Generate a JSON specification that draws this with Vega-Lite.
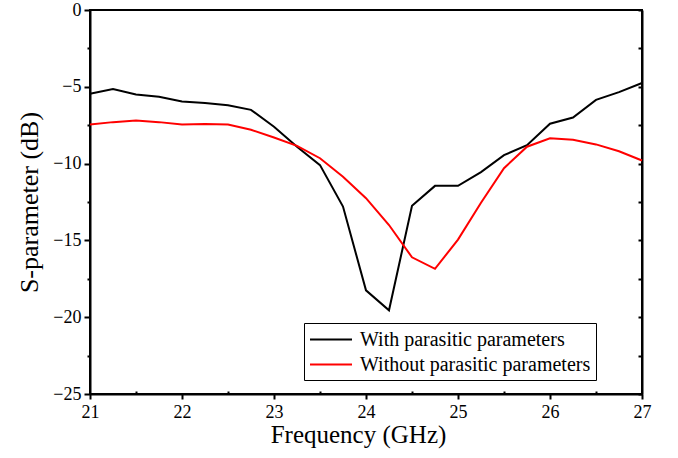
{
"$schema": "https://vega.github.io/schema/vega-lite/v6.json",
"width": 552, "height": 384,
"autosize": {"type": "none"},
"padding": {"left": 90, "top": 10, "right": 36, "bottom": 64},
"background": "white",
"config": {
  "view": {"stroke": "black", "strokeWidth": 2},
  "font": "Liberation Serif",
  "axis": {"domainColor": "black", "domainWidth": 2, "tickColor": "black", "tickWidth": 2, "grid": false, "labelColor": "black", "labelFont": "Liberation Serif", "labelFontSize": 18, "titleFont": "Liberation Serif", "titleColor": "black", "titleFontWeight": "normal", "titleFontSize": 26}
},
"data": {"values": [
{"f":21,"s":-5.45,"series":"With parasitic parameters"},
{"f":21.25,"s":-5.15,"series":"With parasitic parameters"},
{"f":21.5,"s":-5.5,"series":"With parasitic parameters"},
{"f":21.75,"s":-5.65,"series":"With parasitic parameters"},
{"f":22,"s":-5.95,"series":"With parasitic parameters"},
{"f":22.25,"s":-6.05,"series":"With parasitic parameters"},
{"f":22.5,"s":-6.2,"series":"With parasitic parameters"},
{"f":22.75,"s":-6.5,"series":"With parasitic parameters"},
{"f":23,"s":-7.6,"series":"With parasitic parameters"},
{"f":23.25,"s":-8.9,"series":"With parasitic parameters"},
{"f":23.5,"s":-10.1,"series":"With parasitic parameters"},
{"f":23.75,"s":-12.8,"series":"With parasitic parameters"},
{"f":24,"s":-18.25,"series":"With parasitic parameters"},
{"f":24.25,"s":-19.55,"series":"With parasitic parameters"},
{"f":24.5,"s":-12.75,"series":"With parasitic parameters"},
{"f":24.75,"s":-11.45,"series":"With parasitic parameters"},
{"f":25,"s":-11.45,"series":"With parasitic parameters"},
{"f":25.25,"s":-10.55,"series":"With parasitic parameters"},
{"f":25.5,"s":-9.45,"series":"With parasitic parameters"},
{"f":25.75,"s":-8.8,"series":"With parasitic parameters"},
{"f":26,"s":-7.4,"series":"With parasitic parameters"},
{"f":26.25,"s":-7.0,"series":"With parasitic parameters"},
{"f":26.5,"s":-5.85,"series":"With parasitic parameters"},
{"f":26.75,"s":-5.35,"series":"With parasitic parameters"},
{"f":27,"s":-4.75,"series":"With parasitic parameters"},
{"f":21,"s":-7.45,"series":"Without parasitic parameters"},
{"f":21.25,"s":-7.3,"series":"Without parasitic parameters"},
{"f":21.5,"s":-7.2,"series":"Without parasitic parameters"},
{"f":21.75,"s":-7.3,"series":"Without parasitic parameters"},
{"f":22,"s":-7.45,"series":"Without parasitic parameters"},
{"f":22.25,"s":-7.42,"series":"Without parasitic parameters"},
{"f":22.5,"s":-7.45,"series":"Without parasitic parameters"},
{"f":22.75,"s":-7.8,"series":"Without parasitic parameters"},
{"f":23,"s":-8.3,"series":"Without parasitic parameters"},
{"f":23.25,"s":-8.85,"series":"Without parasitic parameters"},
{"f":23.5,"s":-9.65,"series":"Without parasitic parameters"},
{"f":23.75,"s":-10.85,"series":"Without parasitic parameters"},
{"f":24,"s":-12.25,"series":"Without parasitic parameters"},
{"f":24.25,"s":-14.0,"series":"Without parasitic parameters"},
{"f":24.5,"s":-16.1,"series":"Without parasitic parameters"},
{"f":24.75,"s":-16.85,"series":"Without parasitic parameters"},
{"f":25,"s":-14.95,"series":"Without parasitic parameters"},
{"f":25.25,"s":-12.55,"series":"Without parasitic parameters"},
{"f":25.5,"s":-10.3,"series":"Without parasitic parameters"},
{"f":25.75,"s":-8.9,"series":"Without parasitic parameters"},
{"f":26,"s":-8.35,"series":"Without parasitic parameters"},
{"f":26.25,"s":-8.45,"series":"Without parasitic parameters"},
{"f":26.5,"s":-8.75,"series":"Without parasitic parameters"},
{"f":26.75,"s":-9.2,"series":"Without parasitic parameters"},
{"f":27,"s":-9.8,"series":"Without parasitic parameters"}
]},
"layer": [
  {
    "mark": {"type": "line", "strokeWidth": 2},
    "encoding": {
      "x": {"field": "f", "type": "quantitative", "scale": {"domain": [21, 27], "nice": false, "zero": false},
        "axis": {"title": "Frequency (GHz)", "values": [21,21.5,22,22.5,23,23.5,24,24.5,25,25.5,26,26.5,27],
          "labelExpr": "round(datum.value) == datum.value ? format(datum.value, 'd') : ''",
          "tickSize": {"condition": {"test": "round(datum.value) == datum.value", "value": 5}, "value": -3},
          "labelPadding": 4, "titlePadding": 1, "titleX": 268, "titleAlign": "center", "titleFontSize": 25, "labelFlush": false}},
      "y": {"field": "s", "type": "quantitative", "scale": {"domain": [-25, 0], "nice": false, "zero": false},
        "axis": {"title": "S-parameter (dB)", "values": [-25,-22.5,-20,-17.5,-15,-12.5,-10,-7.5,-5,-2.5,0],
          "labelExpr": "round(datum.value) == datum.value ? replace(format(datum.value, 'd'), '-', '\u2212') : ''",
          "tickSize": {"condition": {"test": "round(datum.value) == datum.value", "value": 6}, "value": 3},
          "labelPadding": 3, "titlePadding": 10, "labelFlush": false}},
      "color": {"field": "series", "type": "nominal",
        "scale": {"domain": ["With parasitic parameters", "Without parasitic parameters"], "range": ["#000000", "#ff0000"]},
        "legend": {"title": null, "orient": "none", "legendX": 214, "legendY": 313,
          "strokeColor": "black", "fillColor": "white", "padding": 5,
          "symbolType": "M-1,0H3", "symbolSize": 441, "symbolStrokeWidth": 2,
          "labelFontSize": 20, "labelFont": "Liberation Serif", "labelColor": "black", "labelOffset": 28, "rowPadding": 3, "labelLimit": 400}}
    }
  },
  {
    "mark": {"type": "line", "strokeOpacity": 0},
    "encoding": {
      "x": {"field": "f", "type": "quantitative"},
      "y": {"field": "s", "type": "quantitative",
        "axis": {"orient": "right", "title": null, "labels": false, "values": [-25,-22.5,-20,-17.5,-15,-12.5,-10,-7.5,-5,-2.5,0], "tickSize": -4}},
      "detail": {"field": "series"}
    }
  }
],
"resolve": {"axis": {"y": "independent"}}
}
